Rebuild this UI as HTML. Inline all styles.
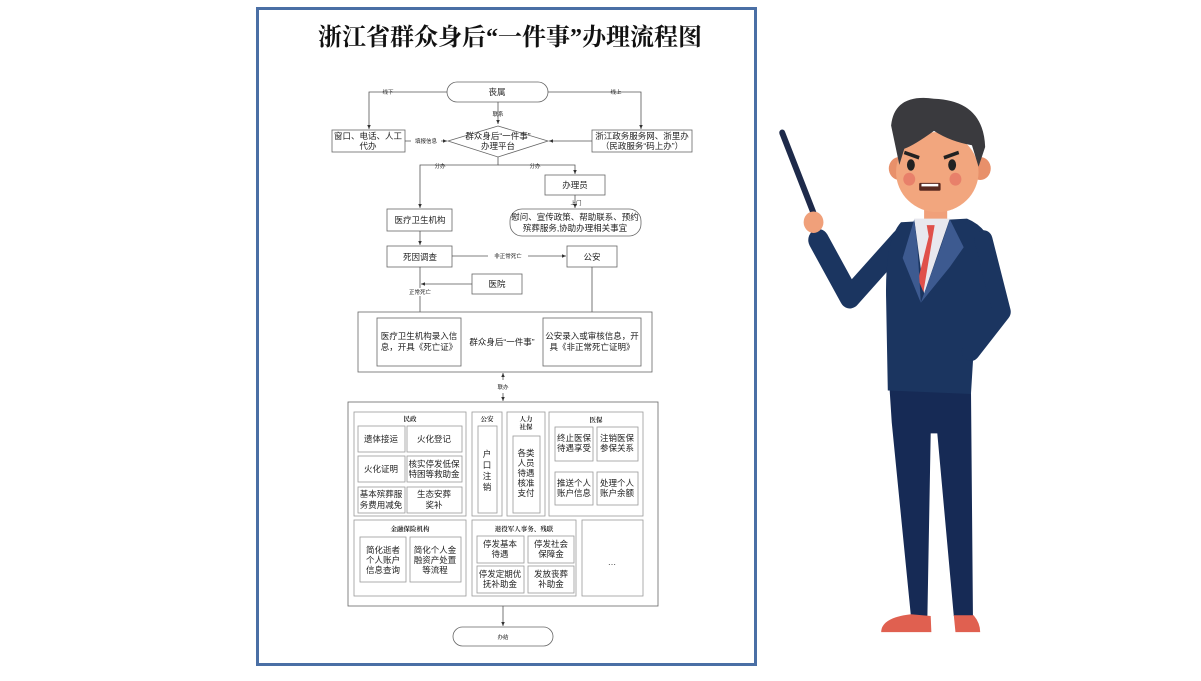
<!DOCTYPE html>
<html><head><meta charset="utf-8"><style>
html,body{margin:0;padding:0;background:#fff;}
svg text{font-family:"Liberation Sans","Noto Sans CJK SC",sans-serif;fill:#222;}
.t{font-size:8.5px;text-anchor:middle;}
.s{font-size:5.5px;text-anchor:middle;}
.h{font-size:6.5px;font-weight:bold;text-anchor:middle;font-family:"Liberation Serif","Noto Serif CJK SC",serif;}
.b{fill:#fff;stroke:#666;stroke-width:0.8;}
.g{fill:#fff;stroke:#999;stroke-width:0.8;}
.l{stroke:#555;stroke-width:0.8;fill:none;}
</style></head><body>
<svg width="1201" height="676" viewBox="0 0 1201 676" xmlns="http://www.w3.org/2000/svg">
<defs><marker id="a" markerWidth="6" markerHeight="6" refX="5" refY="3" orient="auto"><path d="M0,0.8 L5,3 L0,5.2Z" fill="#333"/></marker></defs>
<rect x="257.5" y="8.5" width="498" height="656" fill="#fff" stroke="#4a6fa5" stroke-width="3"/>
<text x="510" y="45" style="font-size:24px;font-weight:bold;text-anchor:middle;font-family:'Liberation Serif','Noto Serif CJK SC',serif;fill:#111">浙江省群众身后“一件事”办理流程图</text>

<rect class="b" x="447" y="82" width="101" height="20" rx="10"/><text class="t" x="497" y="95">丧属</text>
<path class="l" d="M447,92 H369 V129" marker-end="url(#a)"/><text class="s" x="388" y="94" style="fill:#333">线下</text>
<path class="l" d="M548,92 H641 V129" marker-end="url(#a)"/><text class="s" x="616" y="94">线上</text>
<path class="l" d="M498,102 V124" marker-end="url(#a)"/><text class="s" x="498" y="116">联系</text>
<rect class="b" x="332" y="130" width="73" height="22"/><text class="t" x="368" y="139">窗口、电话、人工</text><text class="t" x="368" y="149">代办</text>
<rect class="b" x="592" y="130" width="100" height="22"/><text class="t" x="642" y="139">浙江政务服务网、浙里办</text><text class="t" x="642" y="149">（民政服务“码上办”）</text>
<polygon class="b" points="498,126 548,141 498,157 448,141"/><text class="t" x="498" y="139">群众身后“一件事”</text><text class="t" x="498" y="149">办理平台</text>
<path class="l" d="M405,141 H447" marker-end="url(#a)"/><rect x="411" y="137" width="30" height="7" fill="#fff"/><text class="s" x="426" y="143">填报信息</text>
<path class="l" d="M592,141 H549" marker-end="url(#a)"/>
<path class="l" d="M498,157 V165 H420 V208" marker-end="url(#a)"/><text class="s" x="440" y="168">分办</text>
<path class="l" d="M498,165 H575 V174" marker-end="url(#a)"/><text class="s" x="535" y="168">分办</text>
<rect class="b" x="545" y="175" width="60" height="20"/><text class="t" x="575" y="188">办理员</text>
<path class="l" d="M575,195 V208" marker-end="url(#a)"/><text class="s" x="576" y="205">上门</text>
<rect class="b" x="510" y="209" width="131" height="27" rx="12"/><text class="t" x="575" y="220">慰问、宣传政策、帮助联系、预约</text><text class="t" x="575" y="231">殡葬服务,协助办理相关事宜</text>
<rect class="b" x="387" y="209" width="65" height="22"/><text class="t" x="420" y="223">医疗卫生机构</text>
<path class="l" d="M420,231 V245" marker-end="url(#a)"/>
<rect class="b" x="387" y="246" width="65" height="21"/><text class="t" x="420" y="260">死因调查</text>
<path class="l" d="M452,256 H566" marker-end="url(#a)"/><rect x="488" y="252" width="40" height="7" fill="#fff"/><text class="s" x="508" y="258">非正常死亡</text>
<rect class="b" x="567" y="246" width="50" height="21"/><text class="t" x="592" y="260">公安</text>
<rect class="b" x="472" y="274" width="50" height="20"/><text class="t" x="497" y="287">医院</text>
<path class="l" d="M472,284 H421" marker-end="url(#a)"/>
<path class="l" d="M420,267 V317" marker-end="url(#a)"/><rect x="402" y="288" width="36" height="8" fill="#fff"/><text class="s" x="420" y="294">正常死亡</text>
<path class="l" d="M592,267 V317" marker-end="url(#a)"/>
<rect class="b" x="358" y="312" width="294" height="60"/>
<rect class="b" x="377" y="318" width="84" height="48"/><text class="t" x="419" y="339">医疗卫生机构录入信</text><text class="t" x="419" y="350">息，开具《死亡证》</text>
<rect class="b" x="543" y="318" width="98" height="48"/><text class="t" x="592" y="339">公安录入或审核信息，开</text><text class="t" x="592" y="350">具《非正常死亡证明》</text>
<text class="t" x="502" y="345">群众身后“一件事”</text>
<path class="l" d="M503,380 V373" marker-end="url(#a)"/><path class="l" d="M503,393 V401" marker-end="url(#a)"/><text class="s" x="503" y="389">联办</text>

<rect class="b" x="348" y="402" width="310" height="204"/>
<rect class="g" x="354" y="412" width="112" height="104"/><text class="h" x="410" y="421">民政</text>
<rect class="g" x="358" y="426" width="47" height="26"/><text class="t" x="381" y="442">遗体接运</text>
<rect class="g" x="407" y="426" width="55" height="26"/><text class="t" x="434" y="442">火化登记</text>
<rect class="g" x="358" y="456" width="47" height="26"/><text class="t" x="381" y="472">火化证明</text>
<rect class="g" x="407" y="456" width="55" height="26"/><text class="t" x="434" y="467">核实停发低保</text><text class="t" x="434" y="477">特困等救助金</text>
<rect class="g" x="358" y="487" width="47" height="26"/><text class="t" x="381" y="497">基本殡葬服</text><text class="t" x="381" y="508">务费用减免</text>
<rect class="g" x="407" y="487" width="55" height="26"/><text class="t" x="434" y="497">生态安葬</text><text class="t" x="434" y="508">奖补</text>
<rect class="g" x="472" y="412" width="30" height="104"/><text class="h" x="487" y="421">公安</text>
<rect class="g" x="478" y="426" width="19" height="87"/>
<text class="t" x="487" y="457">户</text><text class="t" x="487" y="468">口</text><text class="t" x="487" y="479">注</text><text class="t" x="487" y="490">销</text>
<rect class="g" x="507" y="412" width="38" height="104"/><text class="h" x="526" y="421">人力</text><text class="h" x="526" y="429">社保</text>
<rect class="g" x="513" y="436" width="27" height="77"/>
<text class="t" x="526" y="456">各类</text><text class="t" x="526" y="466">人员</text><text class="t" x="526" y="476">待遇</text><text class="t" x="526" y="486">核准</text><text class="t" x="526" y="496">支付</text>
<rect class="g" x="549" y="412" width="94" height="104"/><text class="h" x="596" y="422">医保</text>
<rect class="g" x="555" y="427" width="38" height="34"/><text class="t" x="574" y="441">终止医保</text><text class="t" x="574" y="451">待遇享受</text>
<rect class="g" x="597" y="427" width="41" height="34"/><text class="t" x="617" y="441">注销医保</text><text class="t" x="617" y="451">参保关系</text>
<rect class="g" x="555" y="472" width="38" height="33"/><text class="t" x="574" y="486">推送个人</text><text class="t" x="574" y="496">账户信息</text>
<rect class="g" x="597" y="472" width="41" height="33"/><text class="t" x="617" y="486">处理个人</text><text class="t" x="617" y="496">账户余额</text>
<rect class="g" x="354" y="520" width="112" height="76"/><text class="h" x="410" y="531">金融保险机构</text>
<rect class="g" x="360" y="537" width="46" height="45"/><text class="t" x="383" y="553">简化逝者</text><text class="t" x="383" y="563">个人账户</text><text class="t" x="383" y="573">信息查询</text>
<rect class="g" x="410" y="537" width="51" height="45"/><text class="t" x="435" y="553">简化个人金</text><text class="t" x="435" y="563">融资产处置</text><text class="t" x="435" y="573">等流程</text>
<rect class="g" x="472" y="520" width="104" height="76"/><text class="h" x="524" y="531">退役军人事务、残联</text>
<rect class="g" x="477" y="536" width="47" height="27"/><text class="t" x="500" y="547">停发基本</text><text class="t" x="500" y="557">待遇</text>
<rect class="g" x="528" y="536" width="46" height="27"/><text class="t" x="551" y="547">停发社会</text><text class="t" x="551" y="557">保障金</text>
<rect class="g" x="477" y="566" width="47" height="27"/><text class="t" x="500" y="577">停发定期优</text><text class="t" x="500" y="587">抚补助金</text>
<rect class="g" x="528" y="566" width="46" height="27"/><text class="t" x="551" y="577">发放丧葬</text><text class="t" x="551" y="587">补助金</text>
<rect class="g" x="582" y="520" width="61" height="76"/><text class="t" x="612" y="565">…</text>
<path class="l" d="M503,606 V626" marker-end="url(#a)"/>
<rect class="b" x="453" y="627" width="100" height="19" rx="9.5"/><text class="s" x="503" y="639">办结</text>

<g transform="translate(769,79) scale(0.33,0.358)">
<line x1="40" y1="150" x2="150" y2="410" stroke="#1e2a4a" stroke-width="18" stroke-linecap="round"/>
<path d="M365,860 L612,860 L618,1500 L560,1500 L510,990 L490,990 L480,1500 L430,1500 L372,960 Z" fill="#162a55"/>
<path d="M340,1545 Q340,1505 430,1495 L490,1500 L492,1545 Z" fill="#e06050"/>
<path d="M560,1498 L620,1498 Q640,1520 640,1545 L565,1545 Z" fill="#e06050"/>
<polyline points="150,450 245,610 400,450" fill="none" stroke="#1b3560" stroke-width="62" stroke-linecap="round" stroke-linejoin="round"/>
<path d="M400,400 L600,390 Q680,420 690,520 L700,650 L620,760 L612,880 L360,870 L355,620 Q350,450 400,400 Z" fill="#1b3560"/>
<polyline points="650,450 705,650 612,760" fill="none" stroke="#1b3560" stroke-width="55" stroke-linecap="round" stroke-linejoin="round"/>
<rect x="470" y="345" width="70" height="60" fill="#f0a07a"/>
<polygon points="440,390 548,390 470,600" fill="#e8e8ee"/>
<polygon points="478,408 502,408 496,440 468,595 452,560 484,440" fill="#e0504a"/>
<polygon points="440,392 405,500 460,625 450,470" fill="#3d5a90"/>
<polygon points="548,392 590,470 548,525 460,625 520,470" fill="#3d5a90"/>
<circle cx="135" cy="400" r="30" fill="#f0a07a"/>
<circle cx="395" cy="250" r="32" fill="#e8906a"/><circle cx="640" cy="250" r="32" fill="#e8906a"/>
<ellipse cx="510" cy="260" rx="125" ry="112" fill="#f2a67e"/>
<path d="M370,130 Q380,40 500,55 Q650,60 655,190 L635,245 L615,185 Q550,175 500,145 Q440,185 410,195 L395,240 Z" fill="#3a3a3e"/>
<ellipse cx="430" cy="240" rx="12" ry="16" fill="#222"/><ellipse cx="555" cy="240" rx="12" ry="16" fill="#222"/>
<line x1="410" y1="205" x2="455" y2="220" stroke="#222" stroke-width="10"/><line x1="530" y1="220" x2="575" y2="205" stroke="#222" stroke-width="10"/>
<circle cx="425" cy="280" r="18" fill="#e8806a"/><circle cx="565" cy="280" r="18" fill="#e8806a"/>
<rect x="455" y="290" width="65" height="22" rx="4" fill="#5a2a20"/><rect x="462" y="293" width="51" height="7" fill="#fff"/>
</g>
</svg>
</body></html>
